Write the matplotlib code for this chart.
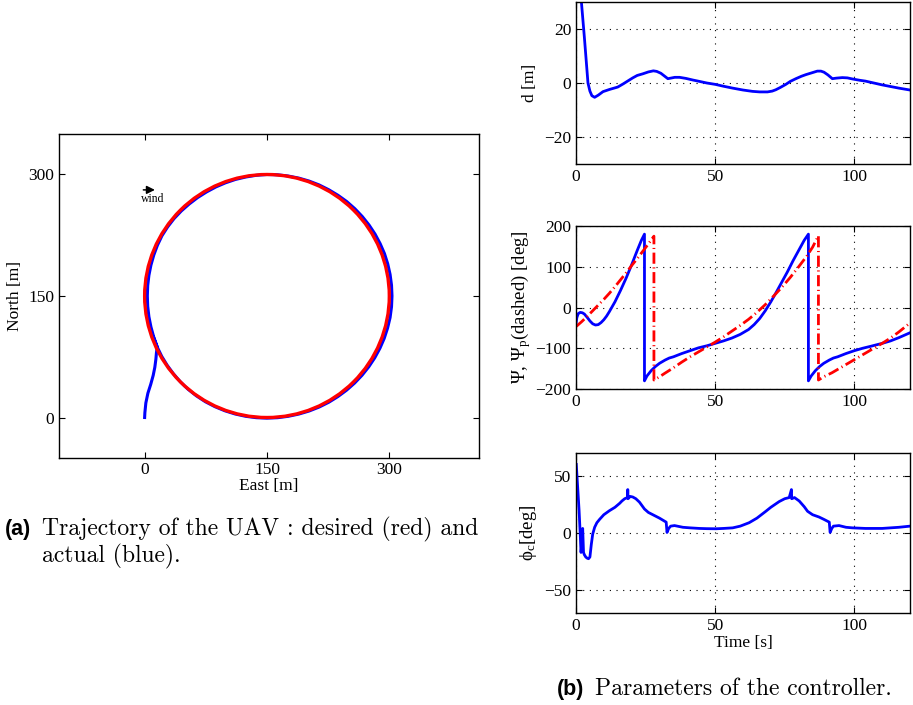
import matplotlib
matplotlib.use("Agg")
import matplotlib.pyplot as plt
from matplotlib.patches import Circle
import numpy as np

plt.rcParams['font.family'] = ['Liberation Serif', 'DejaVu Serif']
plt.rcParams['mathtext.fontset'] = 'custom'
plt.rcParams['mathtext.rm'] = 'Liberation Serif'
plt.rcParams['mathtext.it'] = 'Liberation Serif:italic'
plt.rcParams['font.size'] = 12.5

# ---- (a) trajectory ----
circle_center = (150, 150)
circle_radius = 150

# approach leg (East, North) [m]
start_east = [0, 0.3, 1.5, 4, 7.5, 10.5, 12.5, 13.8, 14.5]
start_north = [0, 6, 18, 30, 41, 52, 62, 72, 80]

# loop around the circle, read every 5 deg (from 205 down to -160) as radius [m]
loop_angle = np.arange(205, -161, -5)
loop_radius = [148.5, 147.8, 147.3, 147, 146.8, 146.7, 146.8, 147, 147.3, 147.7,
               148.2, 148.7, 148.7, 148.7, 148.5, 148.3, 148.3, 148.3, 148.5, 148.7,
               149, 149.2, 149.6, 150, 150.2, 150.4, 150.7, 151, 151.3, 151.5,
               151.8, 152.2, 152.4, 152.6, 152.8, 153, 153.1, 153.3, 153.3, 153.3,
               153.3, 153.3, 153.3, 153.3, 153.1, 153, 152.8, 152.6, 152.4, 152.2,
               152, 151.8, 151.6, 151.5, 151.3, 151.1, 150.9, 150.8, 150.8, 150.8,
               150.8, 150.8, 150.8, 150.8, 150.8, 150.8, 150.6, 150.4, 150, 149.6,
               149.3, 149, 148.6, 148.2]

# ---- (b) controller signals ----
t_d = [0, 1, 1.9, 3, 3.5, 4.3, 5, 5.7, 6.7, 8, 9.7, 12, 15, 17, 19, 20.4, 22,
       24, 26, 27.8, 29, 30.5, 32, 33, 34, 35.5, 37.2, 39.5, 42, 44.3, 47, 50,
       53, 56.3, 60, 63.4, 66, 68.8, 70.5, 71.8, 73.5, 75.4, 77, 79, 81, 82.6,
       84.5, 86.7, 88, 89.1, 90.5, 92.1, 93.5, 95.7, 97.5, 99.3, 102, 104, 107,
       110, 113, 116, 120]
d_err = [54, 42, 30.5, 17, 10.5, 0, -3, -4.7, -5.3, -4.5, -3.2, -2.4, -1.5,
         -0.3, 1, 1.9, 2.8, 3.4, 4.1, 4.5, 4.3, 3.6, 2.4, 1.6, 1.8, 2.1, 2.1,
         1.7, 1.1, 0.6, 0, -0.5, -1.2, -1.9, -2.6, -3.1, -3.3, -3.3, -3, -2.5,
         -1.6, -0.5, 0.6, 1.6, 2.5, 3.1, 3.7, 4.4, 4.4, 4.0, 3.0, 1.6, 1.8,
         2.0, 1.9, 1.5, 1.0, 0.7, 0, -0.7, -1.3, -1.9, -2.6]

t_psi = [0, 0.3, 0.8, 1.5, 2.3, 3, 4, 5, 6, 7, 8, 9, 10, 11, 12, 13, 14, 16,
         18, 20, 22, 23.5, 24.6, 24.6, 25.5, 27, 28.5, 30, 32, 33.5, 35, 38,
         41, 44, 47, 50, 53, 56, 59, 62, 64, 66, 68, 70, 72, 74, 76, 78, 80,
         82, 83.5, 83.5, 84.5, 86, 87.5, 89, 91, 92.5, 94, 97, 100, 103, 106,
         110, 113, 116, 120]
psi = [-40, -25, -15, -12, -13, -16, -24, -33, -40, -43, -42, -37, -30, -21,
       -10, 2, 14, 42, 72, 105, 140, 165, 180, -180, -168, -155, -145, -137,
       -129, -124, -121, -113, -106, -99, -94, -88, -82, -75, -66, -54, -42,
       -27, -8, 14, 38, 63, 88, 115, 140, 165, 180, -180, -168, -155, -145,
       -137, -129, -124, -121, -113, -106, -100, -95, -88, -82, -74, -62]

t_psip = [0, 2, 4, 6, 8, 10, 12, 14, 16, 18, 20, 22, 24, 26, 28, 28, 30, 32,
          35, 38, 41, 44, 47, 50, 53, 56, 59, 62, 65, 68, 71, 74, 77, 80, 83,
          85, 87.1, 87.1, 89, 92, 95, 98, 101, 104, 107, 110, 113, 116, 120]
psi_p = [-47, -35, -22, -8, 6, 20, 35, 51, 68, 85, 103, 120, 138, 156, 175,
         -178, -170, -161, -148, -134, -121, -109, -97, -85, -72, -58, -44,
         -29, -12, 7, 28, 50, 74, 100, 127, 148, 176, -178, -170, -160, -148,
         -136, -124, -112, -100, -88, -75, -60, -38]

t_phi = [0.1, 0.6, 1.1, 1.5, 1.8, 2.1, 2.4, 2.7, 3.0, 3.5, 4.0, 4.5, 5.0,
         5.5, 6.0, 6.7, 7.5, 8.5, 10, 12, 14, 15.7, 16.5, 17.5, 18.5, 18.6,
         18.7, 19.5, 20.4, 21.5, 22.8, 24.6, 26, 27.6, 30, 32.4, 32.7, 33.3,
         34, 35.4, 38.4, 41, 44.3, 47, 50.3, 53, 56.3, 59, 62.2, 65, 68.2, 70,
         73, 75, 76.6, 77.4, 77.5, 78.5, 80.2, 82, 83.2, 85, 87.3, 89, 91,
         91.3, 91.9, 92.5, 94.5, 97, 99.3, 104, 110, 116, 120]
phi_c = [60, 40, 20, 0, -17, -10, 4, -17, -19, -21, -22, -22.5, -21, -10, -1,
         5, 9, 12, 16, 19.5, 22.5, 26, 28, 30, 31, 38, 30, 32, 31.5, 30, 27,
         21, 18, 16, 13, 9.5, 0.5, 4, 6, 6.5, 5, 4.5, 4, 3.8, 3.7, 4, 4.5, 6,
         9, 13, 19, 22.5, 27.5, 30, 31, 38, 30, 31, 28, 23, 19, 16, 14, 12,
         9.5, 0.5, 4, 6, 6.5, 5, 4.5, 4, 4, 5, 6]

W, H = 913, 705
fig = plt.figure(figsize=(W / 100, H / 100), dpi=100)


def box(x0, y0, x1, y1):
    return [x0 / W, 1 - y1 / H, (x1 - x0) / W, (y1 - y0) / H]


def matlab_style(ax):
    ax.tick_params(direction='in', top=True, right=True, length=4, width=0.8)
    for s in ax.spines.values():
        s.set_linewidth(1.0)


# left panel
ax = fig.add_axes(box(59, 134, 479, 458))
th = np.deg2rad(loop_angle)
loop_e = circle_center[0] + np.array(loop_radius) * np.cos(th)
loop_n = circle_center[1] + np.array(loop_radius) * np.sin(th)
ax.plot(start_east + list(loop_e), start_north + list(loop_n), color='b', lw=2.2, zorder=2)
ax.add_patch(Circle(circle_center, circle_radius, fill=False, ec='r', lw=2.4, zorder=3))
ax.annotate('', xy=(16, 281), xytext=(-5, 281),
            arrowprops=dict(arrowstyle='-|>', color='k', lw=1.1, mutation_scale=12))
ax.text(10, 266, 'wind', fontsize=8.5, ha='center', va='baseline')
ax.set_xlim(-105, 410)
ax.set_ylim(-50, 350)
ax.set_xticks([0, 150, 300])
ax.set_yticks([0, 150, 300])
ax.tick_params(axis='x', pad=3)
ax.set_xlabel('East [m]', labelpad=0)
ax.set_ylabel('North [m]', labelpad=4)
matlab_style(ax)

grid_kw = dict(color='k', linestyle=(0, (1, 5)), linewidth=0.8)

ax1 = fig.add_axes(box(576, 2, 910, 164))
ax1.plot(t_d, d_err, color='b', lw=2)
ax1.set_xlim(0, 120)
ax1.set_ylim(-30, 30)
ax1.set_xticks([0, 50, 100])
ax1.set_yticks([-20, 0, 20])
ax1.set_ylabel('d [m]')
ax1.grid(True, **grid_kw)
matlab_style(ax1)

ax2 = fig.add_axes(box(576, 226, 910, 389))
ax2.plot(t_psi, psi, color='b', lw=2)
ax2.plot(t_psip, psi_p, color='r', lw=2, linestyle=(0, (4, 1.3, 0.4, 1.3)))
ax2.set_xlim(0, 120)
ax2.set_ylim(-200, 200)
ax2.set_xticks([0, 50, 100])
ax2.set_yticks([-200, -100, 0, 100, 200])
ax2.set_ylabel('Ψ, Ψ$_{\\rm p}$(dashed) [deg]', fontsize=13.5, labelpad=2)
ax2.grid(True, **grid_kw)
matlab_style(ax2)

ax3 = fig.add_axes(box(576, 453, 910, 613))
ax3.plot(t_phi, phi_c, color='b', lw=2)
ax3.set_xlim(0, 120)
ax3.set_ylim(-70, 70)
ax3.set_xticks([0, 50, 100])
ax3.set_yticks([-50, 0, 50])
ax3.set_ylabel('ϕ$_{\\rm c}$[deg]', fontsize=13.5)
ax3.set_xlabel('Time [s]', labelpad=1)
ax3.grid(True, **grid_kw)
matlab_style(ax3)

# captions
cap_kw = dict(fontsize=17, family='cmr10', va='baseline')
lab_kw = dict(fontsize=15.5, family='Liberation Sans', weight='bold', va='baseline')
fig.text(5 / W, 1 - 535 / H, '(a)', **lab_kw)
fig.text(42 / W, 1 - 535 / H, 'Trajectory of the UAV : desired (red) and', **cap_kw)
fig.text(42 / W, 1 - 562 / H, 'actual (blue).', **cap_kw)
fig.text(557 / W, 1 - 695 / H, '(b)', **lab_kw)
fig.text(595 / W, 1 - 695 / H, 'Parameters of the controller.', **cap_kw)

fig.savefig('out.png', dpi=100)
